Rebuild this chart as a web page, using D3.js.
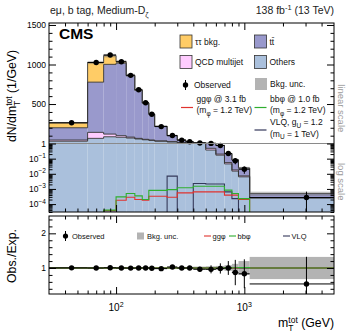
<!DOCTYPE html>
<html>
<head>
<meta charset="utf-8">
<script src="https://cdn.jsdelivr.net/npm/d3@7"></script>
<style>
  body { margin: 0; background: #fff; }
  svg { display: block; font-family: "Liberation Sans", Arial, Helvetica, sans-serif; }
</style>
</head>
<body>
<div id="chart"></div>
<script>
'use strict';

//#region DATASET
// bin edges of m_T^tot (GeV)
const binEdges = [30, 60, 80, 100, 120, 140, 160, 180, 200, 250, 300, 350, 400, 500, 600, 700, 800, 900, 1100, 5000];

// dN/dm_T^tot (1/GeV)
const observed = [263, 1025, 1120, 1035, 863, 680, 516, 370, 215, 103, 44, 23, 8, 2.5, 0.74, 0.22, 0.073, 0.020, 0.00027];
const obsErrLow = [0.02, 0.01, 0.01, 0.01, 0.01, 0.015, 0.015, 0.02, 0.02, 0.03, 0.04, 0.06, 0.07, 0.12, 0.15, 0.2, 0.42, 0.5, 1.0];
const obsErrHigh = [0.02, 0.01, 0.01, 0.01, 0.01, 0.015, 0.015, 0.02, 0.02, 0.03, 0.04, 0.06, 0.07, 0.12, 0.15, 0.2, 0.42, 0.5, 1.45];

const others = [30, 66, 86, 80, 70, 58, 48, 40, 30, 21, 12, 5, 1.5, 0.37, 0.17, 0.045, 0.015, 0.0063, 0.00025];
const qcd    = [15, 76, 34, 20, 12, 8, 6, 5, 4, 3, 2, 1, 0.4, 0.11, 0.03, 0.01, 0.003, 0.001, 0.00002];
const ttbar  = [155, 635, 882, 917, 774, 608, 457, 325, 183, 75, 29.5, 16.7, 6.3, 2.09, 0.54, 0.162, 0.065, 0.0164, 0.00022];
const tautau = [62, 248, 110, 18, 10, 6, 4, 3, 2, 1, 0.5, 0.3, 0.1, 0.03, 0.01, 0.003, 0.001, 0.0003, 0.00001];
const bkgUnc = [0.02, 0.02, 0.02, 0.02, 0.02, 0.02, 0.02, 0.02, 0.02, 0.03, 0.03, 0.03, 0.04, 0.05, 0.06, 0.08, 0.12, 0.2, 0.32];

const ggPhi = [0, 0, 3.7e-5, 1.8e-4, 2.8e-4, 2e-4, 1.8e-4, 3.3e-4, 3.3e-4, 2.8e-4, 5.5e-4, 5.5e-4, 6.4e-4, 6.4e-4, 6.4e-4, 3.9e-4, 3.9e-4, 2.0e-4, 0];
const bbPhi = [0, 0, 4e-5, 3e-4, 5e-4, 3.5e-4, 2e-4, 8e-4, 8e-4, 9e-4, 1.2e-3, 1.2e-3, 1.5e-3, 1.5e-3, 1.5e-3, 8.4e-4, 5e-4, 2.3e-4, 0];
const vlq   = [0, 0, 0, 0, 0, 0, 0, 0, 0, 7e-3, 0, 0, 2.3e-3, 2.1e-3, 2.1e-3, 6.4e-4, 2.3e-4, 0, 0];

const linTicks = [500, 1000, 1500];
const logTicks = [1e-4, 1e-3, 1e-2, 1e-1];
const ratioTicks = [1, 2];
const xTickLabels = [100, 1000];
//#endregion DATASET

//#region CHART DIMENSIONS
const width = 349, height = 335;
const f = { left: 49, right: 334, top: 23, split: 143.5, bottom: 212, rTop: 216, rBottom: 294 };
const logMin = 3e-5;
const colors = {
  others: '#aac0dc', qcd: '#ffccff', ttbar: '#9999cc', tautau: '#ffcc66',
  gg: '#e0332f', bb: '#2fae2f', vlq: '#34385a', unc: '#b3b3b3'
};
//#endregion CHART DIMENSIONS

//#region DRAW CANVAS
const svg = d3.select('#chart').append('svg')
  .attr('width', width)
  .attr('height', height);

const defs = svg.append('defs');
defs.append('clipPath').attr('id', 'clip-main').append('rect')
  .attr('x', f.left).attr('y', f.top).attr('width', f.right - f.left).attr('height', f.bottom - f.top);
defs.append('clipPath').attr('id', 'clip-ratio').append('rect')
  .attr('x', f.left).attr('y', f.rTop).attr('width', f.right - f.left).attr('height', f.rBottom - f.rTop);
//#endregion DRAW CANVAS

//#region CREATE SCALES
const x = d3.scaleLog().domain([binEdges[0], binEdges[binEdges.length - 1]]).range([f.left, f.right]);
const yLin = d3.scaleLinear().domain([1, 1525]).range([f.split, f.top]);
const yLog = d3.scaleLog().domain([logMin, 1]).range([f.bottom, f.split]);
const yMain = v => v >= 1 ? yLin(v) : yLog(Math.max(v, logMin / 10));
const yRatio = d3.scaleLinear().domain([0.25, 2.5]).range([f.rBottom, f.rTop]);

const bins = d3.range(binEdges.length - 1).map(i => ({
  lo: binEdges[i], hi: binEdges[i + 1],
  others: others[i], qcd: qcd[i], ttbar: ttbar[i], tautau: tautau[i]
}));
const keys = ['others', 'qcd', 'ttbar', 'tautau'];
const series = d3.stack().keys(keys)(bins);
const total = bins.map(b => b.others + b.qcd + b.ttbar + b.tautau);

const stepPoints = vals => vals.flatMap((v, i) => [[binEdges[i], v], [binEdges[i + 1], v]]);
//#endregion CREATE SCALES

//#region DRAW DATA (main)
const main = svg.append('g').attr('clip-path', 'url(#clip-main)');

series.forEach(s => {
  main.append('g').selectAll('rect').data(s).enter().append('rect')
    .attr('x', d => x(d.data.lo))
    .attr('width', d => x(d.data.hi) - x(d.data.lo))
    .attr('y', d => yMain(d[1]))
    .attr('height', d => Math.max(0, yMain(d[0]) - yMain(d[1])))
    .attr('fill', colors[s.key]);
});

const mainLine = d3.line().x(d => x(d[0])).y(d => yMain(d[1]));
series.forEach(s => {
  main.append('path')
    .attr('d', mainLine(stepPoints(s.map(d => d[1]))))
    .attr('fill', 'none')
    .attr('stroke', '#333')
    .attr('stroke-width', 0.9);
});

// background uncertainty
main.append('g').selectAll('rect').data(total).enter().append('rect')
  .attr('x', (d, i) => x(binEdges[i]))
  .attr('width', (d, i) => x(binEdges[i + 1]) - x(binEdges[i]))
  .attr('y', (d, i) => yMain(d * (1 + bkgUnc[i])))
  .attr('height', (d, i) => yMain(d * (1 - bkgUnc[i])) - yMain(d * (1 + bkgUnc[i])))
  .attr('fill', '#7f7f7f')
  .attr('opacity', 0.45);

// signals
[[vlq, colors.vlq], [ggPhi, colors.gg], [bbPhi, colors.bb]].forEach(([vals, c]) => {
  main.append('path')
    .attr('d', mainLine(stepPoints(vals)))
    .attr('fill', 'none')
    .attr('stroke', c)
    .attr('stroke-width', 1.1);
});

// split line between linear and log parts
svg.append('line')
  .attr('x1', f.left).attr('x2', f.right)
  .attr('y1', f.split).attr('y2', f.split)
  .attr('stroke', '#8a8a8a').attr('stroke-width', 1);

// observed
const obsG = main.append('g');
observed.forEach((v, i) => {
  const cx = x((binEdges[i] + binEdges[i + 1]) / 2);
  obsG.append('line')
    .attr('x1', cx).attr('x2', cx)
    .attr('y1', yMain(v * (1 + obsErrHigh[i]))).attr('y2', yMain(v * (1 - obsErrLow[i])))
    .attr('stroke', '#000').attr('stroke-width', 1);
  obsG.append('line')
    .attr('x1', x(binEdges[i])).attr('x2', x(binEdges[i + 1]))
    .attr('y1', yMain(v)).attr('y2', yMain(v))
    .attr('stroke', '#000').attr('stroke-width', 1);
  obsG.append('circle')
    .attr('cx', cx).attr('cy', yMain(v)).attr('r', 2.7).attr('fill', '#000');
});
//#endregion DRAW DATA (main)

//#region DRAW DATA (ratio)
const ratio = svg.append('g').attr('clip-path', 'url(#clip-ratio)');

ratio.append('g').selectAll('rect').data(bkgUnc).enter().append('rect')
  .attr('x', (d, i) => x(binEdges[i]))
  .attr('width', (d, i) => x(binEdges[i + 1]) - x(binEdges[i]))
  .attr('y', d => yRatio(1 + d))
  .attr('height', d => yRatio(1 - d) - yRatio(1 + d))
  .attr('fill', colors.unc);

const ratioLine = d3.line().x(d => x(d[0])).y(d => yRatio(d[1]));
ratio.append('line')
  .attr('x1', f.left).attr('x2', f.right)
  .attr('y1', yRatio(1)).attr('y2', yRatio(1))
  .attr('stroke', '#555').attr('stroke-width', 1);
[[vlq, colors.vlq], [ggPhi, colors.gg], [bbPhi, colors.bb]].forEach(([vals, c]) => {
  ratio.append('path')
    .attr('d', ratioLine(stepPoints(vals.map((s, i) => (total[i] + s) / total[i]))))
    .attr('fill', 'none')
    .attr('stroke', c)
    .attr('stroke-width', 1.1);
});

observed.forEach((v, i) => {
  const r = v / total[i];
  const cx = x((binEdges[i] + binEdges[i + 1]) / 2);
  ratio.append('line')
    .attr('x1', cx).attr('x2', cx)
    .attr('y1', yRatio(r * (1 + obsErrHigh[i]))).attr('y2', yRatio(r * (1 - obsErrLow[i])))
    .attr('stroke', '#000');
  ratio.append('line')
    .attr('x1', x(binEdges[i])).attr('x2', x(binEdges[i + 1]))
    .attr('y1', yRatio(r)).attr('y2', yRatio(r))
    .attr('stroke', '#000');
  ratio.append('circle')
    .attr('cx', cx).attr('cy', yRatio(r)).attr('r', 2.7).attr('fill', '#000');
});
//#endregion DRAW DATA (ratio)

//#region DRAW PERIPHERALS
const tickStyle = g => {
  g.select('.domain').remove();
  g.selectAll('line').attr('stroke', '#000');
  g.selectAll('text').remove();
};
const addAxis = (axis, tx, ty) => svg.append('g')
  .attr('transform', `translate(${tx},${ty})`)
  .call(axis).call(tickStyle);

// x ticks
const xMajor = [100, 1000];
const xMinor = [40, 50, 60, 70, 80, 90, 200, 300, 400, 500, 600, 700, 800, 900, 2000, 3000, 4000];
[[f.top, d3.axisBottom], [f.bottom, d3.axisTop], [f.rTop, d3.axisBottom], [f.rBottom, d3.axisTop]].forEach(([yy, ax]) => {
  addAxis(ax(x).tickValues(xMajor).tickSize(7), 0, yy);
  addAxis(ax(x).tickValues(xMinor).tickSize(3.5), 0, yy);
});

// y ticks
const linMinor = d3.range(100, 1525, 100).filter(v => !linTicks.includes(v));
const logMinor = [];
[1e-5, 1e-4, 1e-3, 1e-2, 1e-1].forEach(dec => d3.range(2, 10).forEach(k => {
  const v = k * dec;
  if (v > logMin && v < 1) logMinor.push(v);
}));
const ratioMinor = [0.4, 0.6, 0.8, 1.2, 1.4, 1.6, 1.8, 2.2, 2.4];
[[f.left, d3.axisRight], [f.right, d3.axisLeft]].forEach(([xx, ax]) => {
  addAxis(ax(yLin).tickValues(linTicks).tickSize(7), xx, 0);
  addAxis(ax(yLin).tickValues(linMinor).tickSize(3.5), xx, 0);
  addAxis(ax(yLog).tickValues(logTicks.concat([1])).tickSize(7), xx, 0);
  addAxis(ax(yLog).tickValues(logMinor).tickSize(3.5), xx, 0);
  addAxis(ax(yRatio).tickValues(ratioTicks).tickSize(7), xx, 0);
  addAxis(ax(yRatio).tickValues(ratioMinor).tickSize(3.5), xx, 0);
});

// frames
svg.append('rect').attr('x', f.left).attr('y', f.top)
  .attr('width', f.right - f.left).attr('height', f.bottom - f.top)
  .attr('fill', 'none').attr('stroke', '#000');
svg.append('rect').attr('x', f.left).attr('y', f.rTop)
  .attr('width', f.right - f.left).attr('height', f.rBottom - f.rTop)
  .attr('fill', 'none').attr('stroke', '#000');

// tick labels
const lab = svg.append('g').attr('font-size', 8.5).attr('fill', '#000');
linTicks.forEach(v => lab.append('text').attr('x', f.left - 3).attr('y', yLin(v) + 3)
  .attr('text-anchor', 'end').text(v));
lab.append('text').attr('x', f.left - 3).attr('y', f.split + 3).attr('text-anchor', 'end').text('1');
logTicks.forEach(v => {
  const t = lab.append('text').attr('x', f.left - 3).attr('y', yLog(v) + 3).attr('text-anchor', 'end');
  t.append('tspan').text('10');
  t.append('tspan').attr('dy', -3.5).attr('font-size', 6.5).text('\u2212' + Math.round(-Math.log10(v)));
});
ratioTicks.forEach(v => lab.append('text').attr('x', f.left - 3).attr('y', yRatio(v) + 3)
  .attr('text-anchor', 'end').text(v));
xTickLabels.forEach(v => {
  const t = svg.append('text').attr('x', x(v)).attr('y', 311).attr('text-anchor', 'middle').attr('font-size', 10);
  t.append('tspan').text('10');
  t.append('tspan').attr('dy', -4).attr('font-size', 7).text(Math.round(Math.log10(v)));
});

// title and CMS label
const title = svg.append('text').attr('x', 50).attr('y', 14).attr('font-size', 10.5).attr('fill', '#222');
title.append('tspan').text('e\u03bc, b tag, Medium-D');
title.append('tspan').attr('dy', 2.5).attr('font-size', 7.5).text('\u03b6');
const lumi = svg.append('text').attr('x', f.right).attr('y', 14).attr('font-size', 10.5)
  .attr('text-anchor', 'end').attr('fill', '#222');
lumi.append('tspan').text('138 fb');
lumi.append('tspan').attr('dy', -4).attr('font-size', 7.5).text('-1');
lumi.append('tspan').attr('dy', 4).text(' (13 TeV)');
svg.append('text').attr('x', 59).attr('y', 38.5).attr('font-size', 15.5)
  .attr('font-weight', 'bold').text('CMS');

// axis titles
const yTitle = svg.append('text').attr('transform', 'translate(16,96) rotate(-90)')
  .attr('text-anchor', 'middle').attr('font-size', 12.3);
yTitle.append('tspan').text('dN/dm');
yTitle.append('tspan').attr('dy', -4.5).attr('font-size', 8.5).text('tot');
yTitle.append('tspan').attr('dx', -9.5).attr('dy', 8.5).attr('font-size', 8.5).text('T');
yTitle.append('tspan').attr('dx', 4.3).attr('dy', -4).text(' (1/GeV)');

svg.append('text').attr('transform', 'translate(16,256) rotate(-90)')
  .attr('text-anchor', 'middle').attr('font-size', 12.3).text('Obs./Exp.');

const xTitle = svg.append('text').attr('x', f.right).attr('y', 327)
  .attr('text-anchor', 'end').attr('font-size', 12.3);
xTitle.append('tspan').text('m');
xTitle.append('tspan').attr('dy', -4.5).attr('font-size', 8.5).text('tot');
xTitle.append('tspan').attr('dx', -9.5).attr('dy', 8.5).attr('font-size', 8.5).text('T');
xTitle.append('tspan').attr('dx', 4.3).attr('dy', -4).text(' (GeV)');

// scale side labels
svg.append('text').attr('transform', `translate(338,${(f.top + f.split) / 2 + 25}) rotate(90)`)
  .attr('text-anchor', 'middle').attr('font-size', 9.5).attr('fill', '#9a9a9a').text('linear scale');
svg.append('text').attr('transform', `translate(338,${(f.split + f.bottom) / 2 + 4}) rotate(90)`)
  .attr('text-anchor', 'middle').attr('font-size', 9.5).attr('fill', '#9a9a9a').text('log scale');

// legend (main)
const leg = svg.append('g').attr('font-size', 8.5).attr('fill', '#111');
[
  { label: '\u03c4\u03c4 bkg.', fill: colors.tautau, x: 180, y: 35 },
  { label: 't\u0074\u0304', fill: colors.ttbar, x: 254.5, y: 35 },
  { label: 'QCD multijet', fill: colors.qcd, x: 180, y: 55.5 },
  { label: 'Others', fill: colors.others, x: 254.5, y: 55.5 }
].forEach(d => {
  leg.append('rect').attr('x', d.x).attr('y', d.y).attr('width', 12).attr('height', 13)
    .attr('fill', d.fill).attr('stroke', '#333').attr('stroke-width', 0.8);
  leg.append('text').attr('x', d.x + 15).attr('y', d.y + 9.5).text(d.label);
});
leg.append('line').attr('x1', 185.5).attr('x2', 185.5).attr('y1', 80).attr('y2', 90).attr('stroke', '#000');
leg.append('circle').attr('cx', 185.5).attr('cy', 85).attr('r', 2.7).attr('fill', '#000');
leg.append('text').attr('x', 194).attr('y', 88).text('Observed');
leg.append('rect').attr('x', 255).attr('y', 78).attr('width', 12).attr('height', 12).attr('fill', colors.unc);
leg.append('text').attr('x', 270).attr('y', 87).text('Bkg. unc.');

const sigLegend = [
  { c: colors.gg, x: 181, y: 107.5, l1: ['gg\u03c6 @ 3.1 fb'], sub: '\u03c6', l2: ' = 1.2 TeV)', ty: 101.5 },
  { c: colors.bb, x: 254.5, y: 107.5, l1: ['bb\u03c6 @ 1.0 fb'], sub: '\u03c6', l2: ' = 1.2 TeV)', ty: 101.5 },
  { c: colors.vlq, x: 254.5, y: 130, l1: null, sub: 'U', l2: ' = 1 TeV)', ty: 125 }
];
sigLegend.forEach(d => {
  leg.append('line').attr('x1', d.x).attr('x2', d.x + 12).attr('y1', d.y).attr('y2', d.y)
    .attr('stroke', d.c).attr('stroke-width', 1.2);
  const tx = d.x + 15.5;
  const t1 = leg.append('text').attr('x', tx).attr('y', d.ty);
  if (d.l1) {
    t1.text(d.l1[0]);
  } else {
    t1.append('tspan').text('VLQ, g');
    t1.append('tspan').attr('dy', 2.5).attr('font-size', 6.5).text('U');
    t1.append('tspan').attr('dy', -2.5).text(' = 1.2');
  }
  const t2 = leg.append('text').attr('x', tx).attr('y', d.ty + 11.5);
  t2.append('tspan').text('(m');
  t2.append('tspan').attr('dy', 2.5).attr('font-size', 6.5).text(d.sub);
  t2.append('tspan').attr('dy', -2.5).text(d.l2);
});

// legend (ratio)
const rl = svg.append('g').attr('font-size', 7.5).attr('fill', '#111');
const ry = 236;
rl.append('line').attr('x1', 65.5).attr('x2', 65.5).attr('y1', ry - 5).attr('y2', ry + 5).attr('stroke', '#000');
rl.append('circle').attr('cx', 65.5).attr('cy', ry).attr('r', 2.6).attr('fill', '#000');
rl.append('text').attr('x', 72).attr('y', ry + 3).text('Observed');
rl.append('rect').attr('x', 137).attr('y', ry - 3.5).attr('width', 7).attr('height', 7).attr('fill', colors.unc);
rl.append('text').attr('x', 147).attr('y', ry + 3).text('Bkg. unc.');
[[204, colors.gg, 'gg\u03c6'], [229, colors.bb, 'bb\u03c6'], [283, colors.vlq, 'VLQ']].forEach(([lx, c, l]) => {
  rl.append('line').attr('x1', lx).attr('x2', lx + 7).attr('y1', ry).attr('y2', ry)
    .attr('stroke', c).attr('stroke-width', 1.1);
  rl.append('text').attr('x', lx + 8.5).attr('y', ry + 3).text(l);
});
//#endregion DRAW PERIPHERALS
</script>
</body>
</html>
